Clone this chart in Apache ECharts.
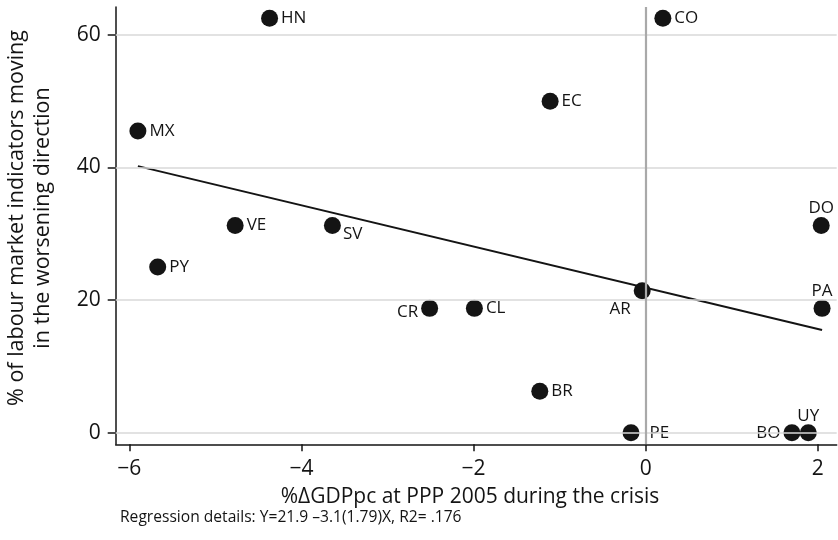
<!DOCTYPE html>
<html>
<head>
<meta charset="utf-8">
<script src="https://cdn.jsdelivr.net/npm/echarts@6/dist/echarts.min.js"></script>
<style>
  html, body { margin: 0; padding: 0; background: #fff; }
  #chart { width: 838px; height: 540px; }
</style>
</head>
<body>
<div id="chart"></div>
<script>
// Country codes and their values
const codes = ['HN', 'CO', 'MX', 'EC', 'VE', 'SV', 'DO', 'PY', 'CR', 'CL', 'AR', 'PA', 'BR', 'PE', 'BO', 'UY'];
const gdpChange = [-4.37, 0.20, -5.90, -1.11, -4.77, -3.64, 2.04, -5.67, -2.51, -1.99, -0.04, 2.05, -1.23, -0.17, 1.70, 1.89];
const worsening = [62.5, 62.5, 45.5, 50, 31.25, 31.25, 31.25, 25, 18.75, 18.75, 21.4, 18.75, 6.25, 0, 0, 0];

// Fitted regression line end points
const fitX = [-5.90, 2.05];
const fitY = [40.2, 15.5];

// Axis ticks
const xTicks = [-6, -4, -2, 0, 2];
const yTicks = [0, 20, 40, 60];

const regressionNote = 'Regression details: Y=21.9 \u20133.1(1.79)X, R2= .176';
const xTitle = '%\u0394GDPpc at PPP 2005 during the crisis';
const yTitle1 = '% of labour market indicators moving';
const yTitle2 = 'in the worsening direction';

const FONT = '"Open Sans", "Noto Sans", sans-serif';
const INK = '#141414';

// Where each country label sits relative to its marker
const labelStyle = {
  DO: { position: 'top', distance: 0 },
  PA: { position: 'top', distance: 0 },
  UY: { position: 'top', distance: 0 },
  BO: { position: 'left', distance: 3 },
  CR: { position: 'left', distance: 3, offset: [0, 4] },
  AR: { position: 'left', distance: 3, offset: [0, 18] },
  SV: { position: 'right', distance: 2, offset: [0, 9] },
  PE: { position: 'right', distance: 10 }
};

const minus = v => String(v).replace('-', '\u2212');

const points = codes.map((c, i) => {
  const s = labelStyle[c] || { position: 'right', distance: 3 };
  return {
    name: c,
    value: [gdpChange[i], worsening[i]],
    label: Object.assign({ show: true, formatter: c }, s)
  };
});

const chart = echarts.init(document.getElementById('chart'), null, { renderer: 'canvas' });

chart.setOption({
  animation: false,
  backgroundColor: '#fff',
  textStyle: { fontFamily: FONT, color: INK },
  grid: { left: 115.7, right: 1.3, top: 7, bottom: 95.7, containLabel: false },
  xAxis: {
    type: 'value',
    min: -6.158,
    max: 2.22,
    axisLine: { show: true, onZero: false, lineStyle: { color: INK, width: 1.5 } },
    axisTick: { show: true, customValues: xTicks, length: 7, lineStyle: { color: INK, width: 1.5 } },
    axisLabel: { customValues: xTicks, formatter: minus, color: INK, fontSize: 21, fontFamily: FONT, margin: 14 },
    splitLine: { show: false }
  },
  yAxis: {
    type: 'value',
    min: -1.75,
    max: 64.2,
    axisLine: { show: true, onZero: false, lineStyle: { color: INK, width: 1.5 } },
    axisTick: { show: true, customValues: yTicks, length: 8, lineStyle: { color: INK, width: 1.5 } },
    axisLabel: { customValues: yTicks, formatter: minus, color: INK, fontSize: 21, fontFamily: FONT, margin: 15 },
    splitLine: { show: false }
  },
  series: [
    {
      // reference lines: horizontal grid and the zero-growth divider
      type: 'line',
      data: [],
      silent: true,
      z: 1,
      markLine: {
        silent: true,
        symbol: 'none',
        label: { show: false },
        data: yTicks.map(v => ({ yAxis: v, lineStyle: { color: '#d9d9d9', width: 1.5, type: 'solid' } }))
          .concat([{ xAxis: 0, lineStyle: { color: '#a9a9a9', width: 2.2, type: 'solid' } }])
      }
    },
    {
      type: 'line',
      data: fitX.map((x, i) => [x, fitY[i]]),
      symbol: 'none',
      lineStyle: { color: INK, width: 2 },
      z: 2
    },
    {
      type: 'scatter',
      data: points,
      symbol: 'circle',
      symbolSize: 17,
      itemStyle: { color: INK, opacity: 1 },
      label: { color: INK, fontSize: 17, fontFamily: FONT },
      z: 3
    }
  ],
  graphic: [
    {
      type: 'text',
      x: 470, y: 497,
      style: { text: xTitle, font: '21px ' + FONT, fill: INK, textAlign: 'center', textVerticalAlign: 'middle' }
    },
    {
      type: 'text',
      x: 17, y: 218, rotation: Math.PI / 2,
      style: { text: yTitle1, font: '21.5px ' + FONT, fill: INK, textAlign: 'center', textVerticalAlign: 'middle' }
    },
    {
      type: 'text',
      x: 43, y: 218, rotation: Math.PI / 2,
      style: { text: yTitle2, font: '21.5px ' + FONT, fill: INK, textAlign: 'center', textVerticalAlign: 'middle' }
    },
    {
      type: 'text',
      x: 120, y: 518,
      style: { text: regressionNote, font: '15.6px ' + FONT, fill: INK, textAlign: 'left', textVerticalAlign: 'middle' }
    }
  ]
});
</script>
</body>
</html>
